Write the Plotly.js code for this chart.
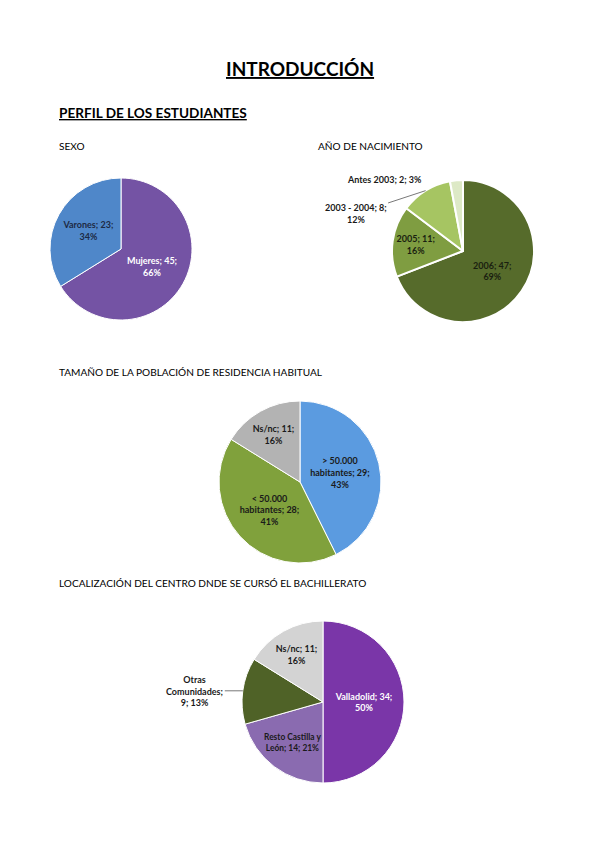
<!DOCTYPE html>
<html>
<head>
<meta charset="utf-8">
<script src="https://cdn.plot.ly/plotly-3.0.1.min.js"></script>
<style>html,body{margin:0;padding:0;background:#fff;}#chart{width:599px;height:848px;}</style>
</head>
<body>
<div id="chart"></div>
<script>
// ---- data ----
const sexoLabels = ['Mujeres', 'Varones'];
const sexoValues = [45, 23];

const anioLabels = ['2006', '2005', '2003 - 2004', 'Antes 2003'];
const anioValues = [47, 11, 8, 2];

const tamLabels = ['> 50.000 habitantes', '< 50.000 habitantes', 'Ns/nc'];
const tamValues = [29, 28, 11];

const locLabels = ['Valladolid', 'Resto Castilla y León', 'Otras Comunidades', 'Ns/nc'];
const locValues = [34, 14, 9, 11];

const pageTitle = 'INTRODUCCIÓN';
const sectionTitle = 'PERFIL DE LOS ESTUDIANTES';
const chartTitles = ['SEXO', 'AÑO DE NACIMIENTO', 'TAMAÑO DE LA POBLACIÓN DE RESIDENCIA HABITUAL', 'LOCALIZACIÓN DEL CENTRO DNDE SE CURSÓ EL BACHILLERATO'];

// ---- layout helpers ----
const W = 599, H = 848;
const FONT = 'Lato, "Open Sans", sans-serif';
const LBL = 9;
function dom(cx, cy, r) {
  return { x: [(cx - r) / W, (cx + r) / W], y: [1 - (cy + r) / H, 1 - (cy - r) / H] };
}
function pct(v, arr) { return Math.round(100 * v / arr.reduce((a, b) => a + b, 0)); }
// paper point on the rim at the middle of slice i (clockwise from 12 o'clock)
function rimPoint(g, values, i) {
  const tot = values.reduce((a, b) => a + b, 0);
  let before = 0; for (let k = 0; k < i; k++) before += values[k];
  const a = 2 * Math.PI * (before + values[i] / 2) / tot;
  return { x: (g.cx + g.r * Math.sin(a)) / W, y: 1 - (g.cy - g.r * Math.cos(a)) / H };
}
const wrapLbl = s => s.replace(' habitantes', '<br>habitantes').replace('Castilla y León', 'Castilla y<br>León');

const T2 = '%{customdata}; %{value};<br>%{percent:.0%}';
const T1 = '%{customdata}; %{value}; %{percent:.0%}';

const G1 = { cx: 121, cy: 249, r: 71 };
const G2 = { cx: 463, cy: 251, r: 71 };
const G3 = { cx: 300, cy: 482, r: 81 };
const G4 = { cx: 323, cy: 702, r: 81 };

function pie(labels, values, g, colors, textColors, templates, lineW) {
  return {
    type: 'pie', labels: labels, values: values, customdata: labels.map(wrapLbl),
    domain: dom(g.cx, g.cy, g.r), sort: false, direction: 'clockwise', rotation: 0,
    marker: { colors: colors, line: { color: '#ffffff', width: lineW } },
    texttemplate: templates, textposition: 'inside', insidetextorientation: 'horizontal',
    textfont: { family: FONT, size: LBL, weight: 'bold', color: textColors },
    hoverinfo: 'label+value+percent', showlegend: false
  };
}

const data = [
  pie(sexoLabels, sexoValues, G1, ['#7453a4', '#4f87c9'], ['#ffffff', '#1d2a44'], [T2, T2], 1),
  pie(anioLabels, anioValues, G2, ['#566b2b', '#7f9d41', '#a6c562', '#dde9c6'], ['#1a1f10', '#1a1f10', '#1a1f10', '#1a1f10'], [T2, T2, '', ''], 2),
  pie(tamLabels, tamValues, G3, ['#5b9be0', '#80a13c', '#b3b3b3'], ['#1a1a1a', '#1a1a1a', '#1a1a1a'], [T2, T2, T2], 1),
  pie(locLabels, locValues, G4, ['#7a36a8', '#8a6bb0', '#4f6227', '#d3d3d3'], ['#ffffff', '#1a1a1a', '#1a1a1a', '#1a1a1a'], [T2, T1, '', T2], 1)
];

const ann = [];
function txt(text, x, y, size, bold, anchor) {
  ann.push({ xref: 'paper', yref: 'paper', x: x / W, y: 1 - y / H, text: text, showarrow: false,
    xanchor: anchor || 'left', yanchor: 'middle',
    font: { family: FONT, size: size, color: '#000', weight: bold ? 'bold' : 'normal' } });
}
txt('<u>' + pageTitle + '</u>', 300, 68, 19, true, 'center');
txt('<u>' + sectionTitle + '</u>', 57, 113, 13.6, true);
txt(chartTitles[0], 57, 146, 10.1, false);
txt(chartTitles[1], 316, 146, 10.1, false);
txt(chartTitles[2], 57, 372, 10.1, false);
txt(chartTitles[3], 57, 583, 10.1, false);

// outside labels with leader lines
const p23 = rimPoint(G2, anioValues, 2);
ann.push({ xref: 'paper', yref: 'paper', x: p23.x, y: p23.y, ax: -70, ay: 23,
  text: anioLabels[2] + '; ' + anioValues[2] + ';<br>' + pct(anioValues[2], anioValues) + '%',
  showarrow: true, arrowhead: 0, arrowwidth: 0.8, arrowcolor: '#555',
  font: { family: FONT, size: LBL, color: '#1a1a1a', weight: 'bold' } });
const p24 = rimPoint(G2, anioValues, 3);
ann.push({ xref: 'paper', yref: 'paper', x: p24.x, y: p24.y, xshift: -72, yshift: 1, showarrow: false,
  xanchor: 'center', yanchor: 'middle',
  text: anioLabels[3] + '; ' + anioValues[3] + '; ' + pct(anioValues[3], anioValues) + '%',
  font: { family: FONT, size: LBL, color: '#1a1a1a', weight: 'bold' } });
const p43 = rimPoint(G4, locValues, 2);
ann.push({ xref: 'paper', yref: 'paper', x: p43.x, y: p43.y, ax: -48, ay: 0,
  text: locLabels[2].replace(' ', '<br>') + ';<br>' + locValues[2] + '; ' + pct(locValues[2], locValues) + '%',
  showarrow: true, arrowhead: 0, arrowwidth: 0.8, arrowcolor: '#555',
  font: { family: FONT, size: LBL, color: '#1a1a1a', weight: 'bold' } });

const layout = {
  width: W, height: H, margin: { l: 0, r: 0, t: 0, b: 0 },
  paper_bgcolor: '#ffffff', plot_bgcolor: '#ffffff',
  font: { family: FONT }, annotations: ann, showlegend: false
};
Plotly.newPlot('chart', data, layout, { displayModeBar: false, staticPlot: true });
</script>
</body>
</html>
